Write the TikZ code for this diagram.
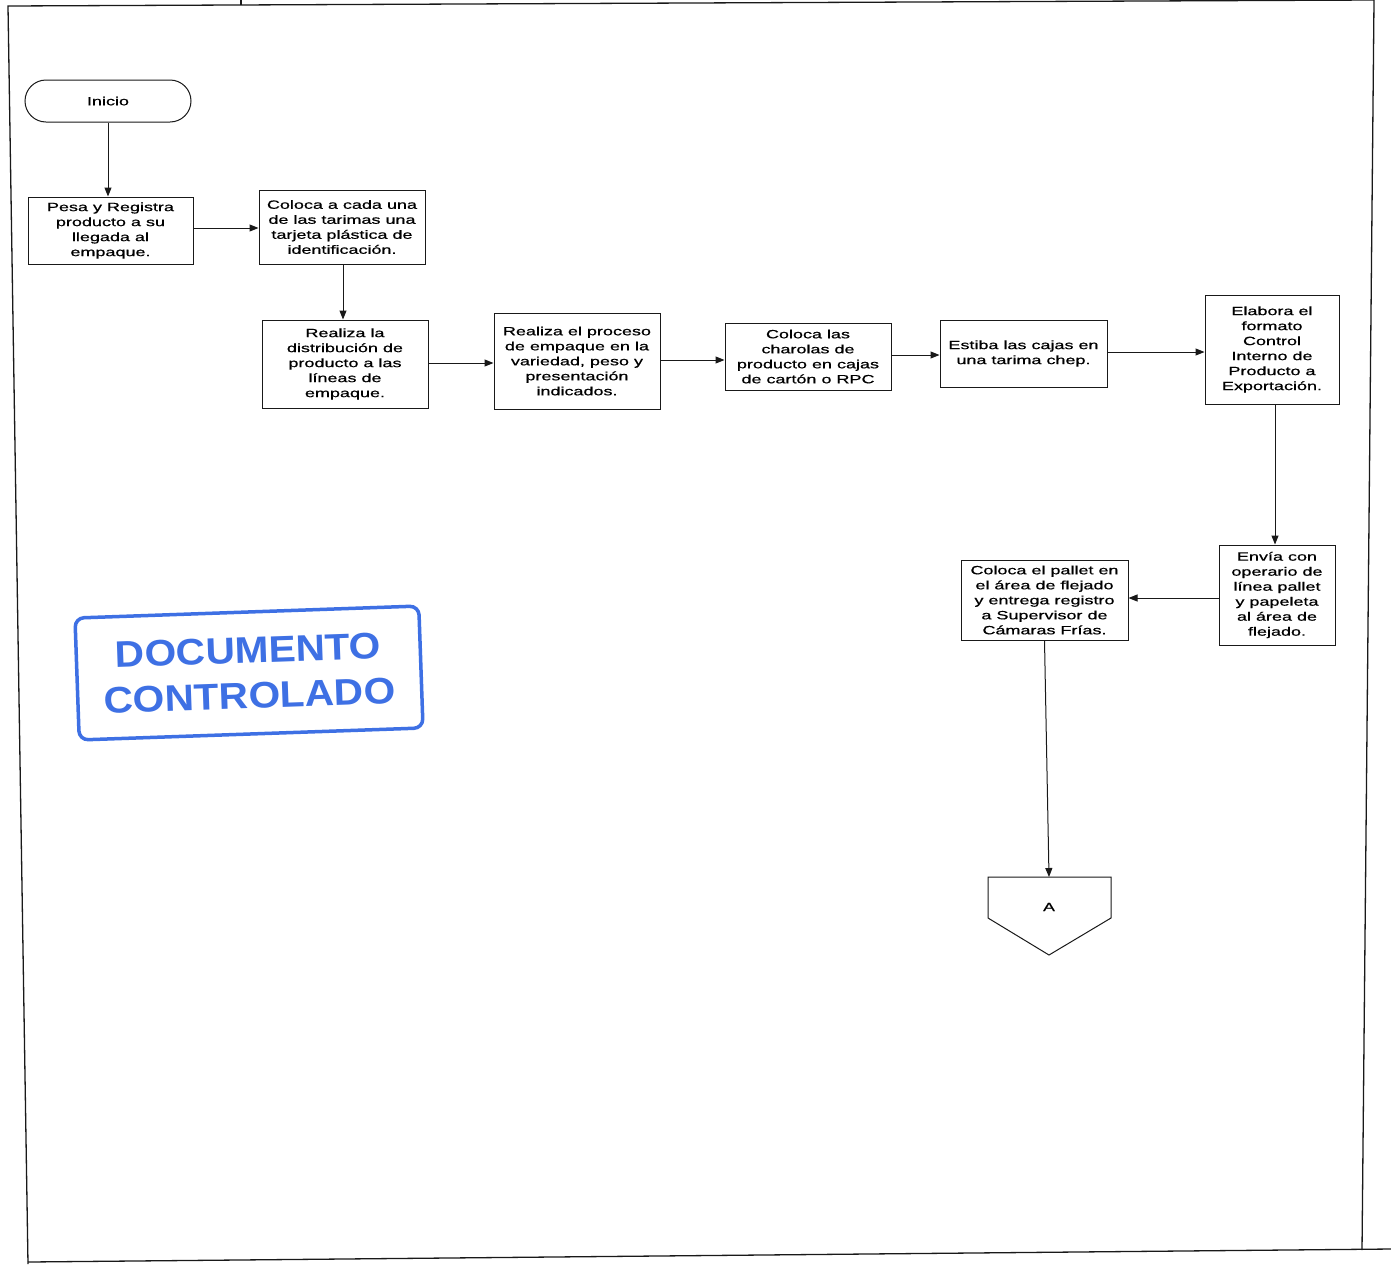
\documentclass[tikz,border=0pt]{standalone}
\usepackage{fontspec}
\setmainfont{Liberation Sans}
\newfontfamily\boxfont{Liberation Sans}[FakeStretch=1.5,FakeBold=0.6]
\newfontfamily\stampfont{Liberation Sans}[FakeStretch=1.1]
\usetikzlibrary{arrows.meta,shapes.misc}
\definecolor{stampblue}{RGB}{62,112,228}
\definecolor{ink}{RGB}{25,25,25}
\tikzset{
  boxtext/.style={font=\boxfont\fontsize{12}{15}\selectfont},
  procbox/.style 2 args={draw=ink, line width=1pt, fill=white, align=center, inner sep=0pt,
    minimum width=#1pt, minimum height=#2pt, boxtext},
  arr/.style={draw=ink, line width=1pt, -{Triangle[length=9pt,width=7pt]}},
  frameline/.style={draw=ink, line width=1.3pt}
}
\begin{document}
\begin{tikzpicture}[x=1pt,y=-1pt]
\useasboundingbox (0,0) rectangle (1391,1264);
\fill[white] (0,0) rectangle (1391,1264);
% frame
\draw[frameline] (1374,0) -- (8,6) -- (28,1264);
\draw[frameline] (28,1262) -- (1391,1249);
\draw[frameline] (1374,0) -- (1362,1250);
\draw[frameline] (241,0) -- (241,5);
% nodes
\node[rounded rectangle, draw=ink, line width=1pt, minimum width=166pt, minimum height=42pt, inner sep=0pt, boxtext] (inicio) at (108,101) {Inicio};
\node[procbox={165}{67}] (pesa) at (110.5,230.5) {Pesa y Registra\\producto a su\\llegada al\\empaque.};
\node[procbox={166}{74}] (tarj) at (342,227) {Coloca a cada una\\de las tarimas una\\tarjeta plástica de\\identificación.};
\node[procbox={166}{88}] (dist) at (345,364) {Realiza la\\distribución de\\producto a las\\líneas de\\empaque.};
\node[procbox={166}{96}] (proc) at (577,361) {Realiza el proceso\\de empaque en la\\variedad, peso y\\presentación\\indicados.};
\node[procbox={166}{67}] (char) at (808,356.5) {Coloca las\\charolas de\\producto en cajas\\de cartón o RPC};
\node[procbox={167}{67}] (estiba) at (1023.5,353.5) {Estiba las cajas en\\una tarima chep.};
\node[procbox={134}{109}] (elab) at (1272,349.5) {Elabora el\\formato\\Control\\Interno de\\Producto a\\Exportación.};
\node[procbox={116}{100}] (envia) at (1277,595) {Envía con\\operario de\\línea pallet\\y papeleta\\al área de\\flejado.};
\node[procbox={167}{80}] (pallet) at (1044.5,600) {Coloca el pallet en\\el área de flejado\\y entrega registro\\a Supervisor de\\Cámaras Frías.};
% off-page connector
\draw[draw=ink, line width=1pt, fill=white] (988,877) -- (1111,877) -- (1111,918) -- (1049,955) -- (988,918) -- cycle;
\node[boxtext] (conA) at (1049,907) {A};
\coordinate (conAtop) at (1049,877);
% connectors
\draw[arr] (inicio.south) -- (inicio.south |- pesa.north);
\draw[arr] (pesa.east |- 0,228) -- (tarj.west |- 0,228);
\draw[arr] (343,264) -- (dist.north -| 343,0);
\draw[arr] (dist.east |- 0,363) -- (proc.west |- 0,363);
\draw[arr] (proc.east |- 0,360) -- (char.west |- 0,360);
\draw[arr] (char.east |- 0,355) -- (estiba.west |- 0,355);
\draw[arr] (estiba.east |- 0,352) -- (elab.west |- 0,352);
\draw[arr] (elab.south -| 1275,0) -- (envia.north -| 1275,0);
\draw[arr] (envia.west |- 0,598) -- (pallet.east |- 0,598);
\draw[arr] (pallet.south) -- (conAtop);
% stamp
\node[draw=stampblue, line width=3.5pt, rounded corners=9pt, rotate=2,
      minimum width=344pt, minimum height=122pt, align=center, text=stampblue,
      font=\stampfont\bfseries\fontsize{37}{46}\selectfont] (stamp) at (249,673)
      {DOCUMENTO\\CONTROLADO};
\end{tikzpicture}
\end{document}
